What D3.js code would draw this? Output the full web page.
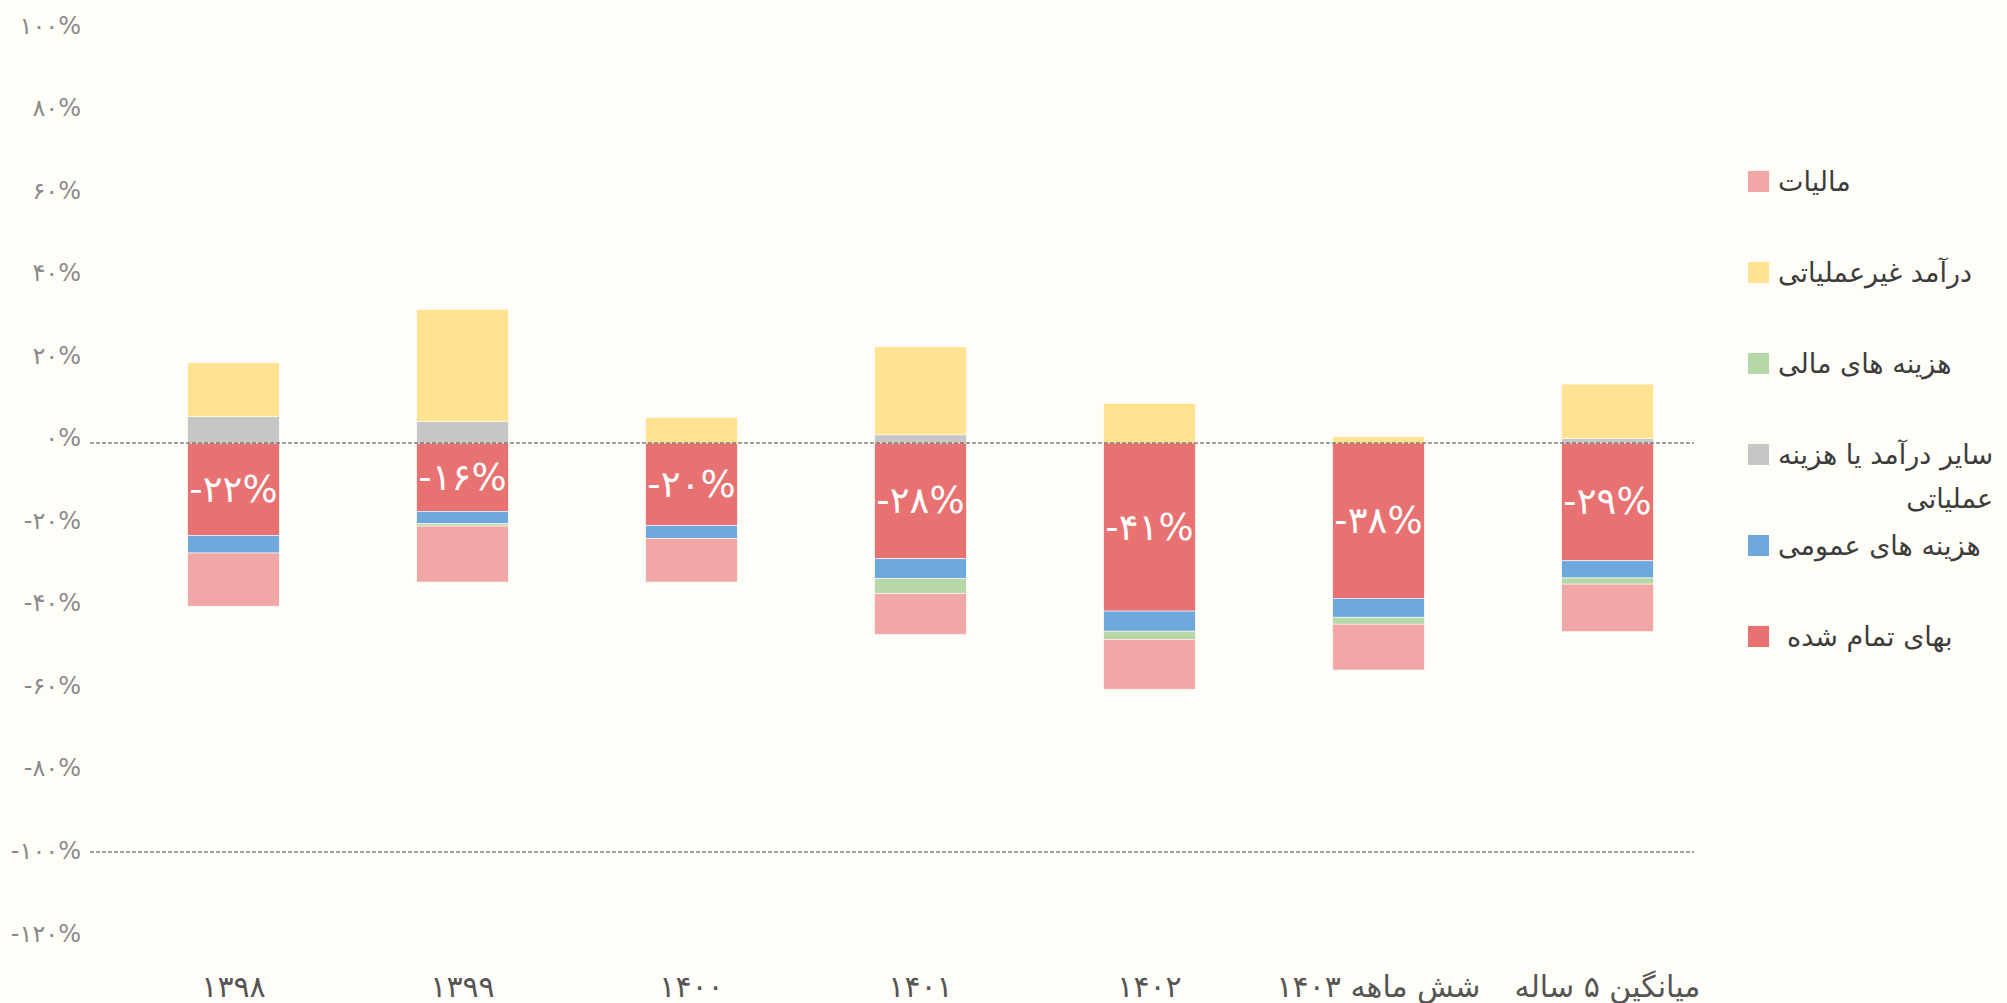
<!DOCTYPE html>
<html><head><meta charset="utf-8">
<script src="https://cdn.jsdelivr.net/npm/d3@7"></script>
<style>html,body{margin:0;padding:0;background:#fffdf7;}svg{display:block;font-family:"DejaVu Sans",sans-serif;}</style>
</head><body>
<script>
const categories = ["۱۳۹۸","۱۳۹۹","۱۴۰۰","۱۴۰۱","۱۴۰۲","شش ماهه ۱۴۰۳","میانگین ۵ ساله"];
const costOfGoods      = [-22.6,-16.7,-20.2,-28.3,-41.1,-38.0,-28.8];
const generalExpenses  = [-4.3,-3.0,-3.1,-4.8,-4.9,-4.6,-4.2];
const financialCosts   = [0,-0.6,0,-3.7,-2.0,-1.7,-1.5];
const taxes            = [-13.0,-13.7,-10.7,-10.0,-12.2,-11.2,-11.6];
const otherOperating   = [6.5,5.3,0,2.0,0,0,1.1];
const nonOperating     = [13.1,27.4,6.2,21.5,9.7,1.5,13.3];
const barLabels        = [-22,-16,-20,-28,-41,-38,-29];
const yTicks = [100,80,60,40,20,0,-20,-40,-60,-80,-100,-120];

const series = [
  {name:"بهای تمام شده", values:costOfGoods, color:"#e87272"},
  {name:"هزینه های عمومی", values:generalExpenses, color:"#6fa8dc"},
  {name:"هزینه های مالی", values:financialCosts, color:"#b6d7a8"},
  {name:"مالیات", values:taxes, color:"#f2a7a7"},
  {name:"سایر درآمد یا هزینه عملیاتی", values:otherOperating, color:"#c6c6c6"},
  {name:"درآمد غیرعملیاتی", values:nonOperating, color:"#ffe391"}
];
const legendOrder = ["مالیات","درآمد غیرعملیاتی","هزینه های مالی","سایر درآمد یا هزینه عملیاتی","هزینه های عمومی","بهای تمام شده"];

const fa = s => String(s).replace(/\d/g, d => "۰۱۲۳۴۵۶۷۸۹"[d]);

const W=2007,H=1003;
const svg=d3.select("body").append("svg").attr("width",W).attr("height",H);
svg.append("rect").attr("width",W).attr("height",H).attr("fill","#fffdf7");

const x=d3.scaleBand().domain(categories).range([119,1722]).paddingInner(0.6).paddingOuter(0.3);
const y=d3.scaleLinear().domain([-120,100]).range([443+120*4.09,443-100*4.09]);
const yLab=d3.scaleLinear().domain([-120,100]).range([933.5,25.5]);

// stacked bars
categories.forEach((c,i)=>{
  let pos=0,neg=0;
  series.forEach(s=>{
    const v=s.values[i];
    if(!v) return;
    let y0,y1;
    if(v>=0){y0=pos;y1=pos+v;pos=y1;} else {y0=neg;y1=neg+v;neg=y1;}
    svg.append("rect")
      .attr("x",x(c)).attr("width",x.bandwidth())
      .attr("y",y(Math.max(y0,y1))).attr("height",Math.abs(y(y0)-y(y1)))
      .attr("fill",s.color).attr("stroke","#fffdf7").attr("stroke-width",0.6);
  });
  const r=costOfGoods[i];
  svg.append("text").attr("x",x(c)+x.bandwidth()/2).attr("y",y(r/2))
    .attr("text-anchor","middle").attr("dominant-baseline","central")
    .attr("fill","#ffffff").attr("font-size",37)
    .text(fa(barLabels[i])+"%");
});

// dashed reference lines
[0,-100].forEach(v=>{
  svg.append("line").attr("x1",90).attr("x2",1694).attr("y1",y(v)).attr("y2",y(v))
    .attr("stroke","#444").attr("stroke-width",1).attr("stroke-dasharray","4,2");
});

// y axis labels
svg.append("g").selectAll("text").data(yTicks).join("text")
  .attr("x",81).attr("y",d=>yLab(d)).attr("text-anchor","end").attr("dominant-baseline","central")
  .attr("fill","#8a8a8a").attr("font-size",24)
  .text(d=>fa(d)+"%");

// x axis labels
svg.append("g").selectAll("text").data(categories).join("text")
  .attr("x",d=>x(d)+x.bandwidth()/2).attr("y",986).attr("text-anchor","middle").attr("dominant-baseline","central")
  .attr("direction","rtl")
  .attr("fill","#555").attr("font-size",30)
  .text(d=>d);

// legend
const lg=svg.append("g");
legendOrder.forEach((n,k)=>{
  const s=series.find(t=>t.name===n);
  const cy=181.5+k*91;
  lg.append("rect").attr("x",1748).attr("y",cy-10.5).attr("width",21).attr("height",21).attr("fill",s.color);
  if(n==="سایر درآمد یا هزینه عملیاتی"){
    const t1=lg.append("text").attr("x",1778).attr("y",cy).attr("dominant-baseline","central")
      .attr("fill","#3c3c3c").attr("font-size",27).text("سایر درآمد یا هزینه");
    const w=t1.node().getComputedTextLength();
    lg.append("text").attr("x",1778+w).attr("y",cy+44).attr("dominant-baseline","central").attr("text-anchor","end")
      .attr("fill","#3c3c3c").attr("font-size",27).text("عملیاتی");
  } else {
    lg.append("text").attr("x",n==="بهای تمام شده"?1787:1778).attr("y",cy).attr("dominant-baseline","central")
      .attr("fill","#3c3c3c").attr("font-size",27).text(n);
  }
});
</script>
</body></html>
